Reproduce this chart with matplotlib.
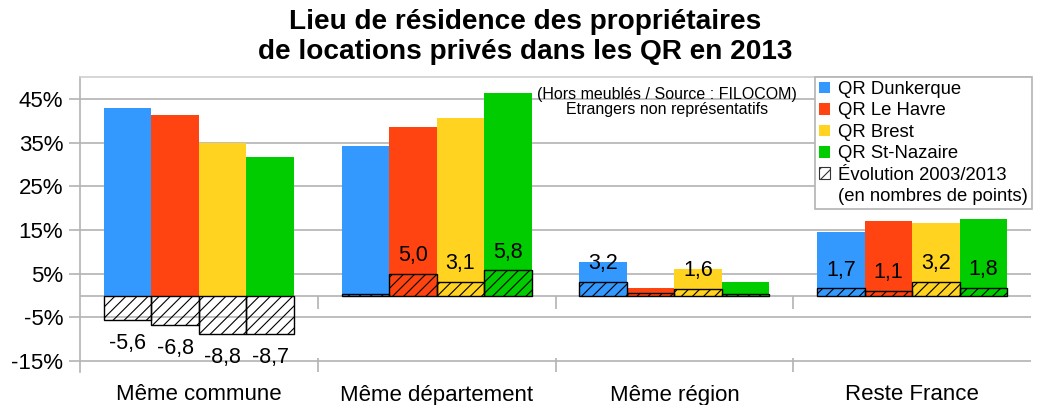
import numpy as np
import matplotlib.pyplot as plt
from matplotlib.patches import Patch

plt.rcParams['font.family'] = ['Liberation Sans', 'DejaVu Sans']
plt.rcParams['hatch.linewidth'] = 0.8

categories = ['Même commune', 'Même département', 'Même région', 'Reste France']
series = ['QR Dunkerque', 'QR Le Havre', 'QR Brest', 'QR St-Nazaire']
colors = ['#3399ff', '#ff4411', '#ffd320', '#00cc00']

# part of owners (%) in 2013
dunkerque = [43.0, 34.2, 7.6, 14.6]
le_havre = [41.2, 38.5, 1.8, 17.1]
brest = [35.0, 40.6, 6.0, 16.7]
st_nazaire = [31.6, 46.4, 3.2, 17.6]

# evolution 2003/2013 (points)
evo_dunkerque = [-5.6, 0.4, 3.2, 1.7]
evo_le_havre = [-6.8, 5.0, 0.5, 1.1]
evo_brest = [-8.8, 3.1, 1.6, 3.2]
evo_st_nazaire = [-8.7, 5.8, 0.4, 1.8]
# which evolution values carry a label on the chart
evo_shown = [[True, False, True, True],
             [True, True, False, True],
             [True, True, True, True],
             [True, True, False, True]]

values = [dunkerque, le_havre, brest, st_nazaire]
evos = [evo_dunkerque, evo_le_havre, evo_brest, evo_st_nazaire]

fig = plt.figure(figsize=(10.39, 4.05), dpi=100)
ax = fig.add_axes([80 / 1039, 1 - 372 / 405, 951 / 1039, 295 / 405])

x = np.arange(len(categories))
w = 0.2
grey = '#b3b3b3'

for i in range(4):
    pos = x + (i - 1.5) * w
    ax.bar(pos, values[i], w, color=colors[i], zorder=2)
    ax.bar(pos, evos[i], w, facecolor='none', edgecolor='black',
           hatch='///', linewidth=1, zorder=3)
    for j, v in enumerate(evos[i]):
        if not evo_shown[i][j]:
            continue
        dy = 13 if v > 0 else -17
        ax.annotate(f'{v:.1f}'.replace('.', ','), (pos[j], v),
                    xytext=(0, dy), textcoords='offset points',
                    ha='center', va='center', fontsize=15.5, zorder=4)

ax.set_xlim(-0.5, 3.5)
ax.set_ylim(-17.5, 50)
ax.set_yticks([45, 35, 25, 15, 5, -5, -15])
ax.set_yticklabels(['45%', '35%', '25%', '15%', '5%', '-5%', '-15%'])
ax.yaxis.grid(True, color=grey, linewidth=1.2, zorder=0)
ax.axhline(0, color=grey, linewidth=1.2, zorder=1)
ax.tick_params(axis='y', labelsize=16, color=grey, length=8, width=1.2, pad=4)

ax.set_xticks(x)
ax.set_xticklabels(categories, fontsize=16)
ax.set_xticks([0.5, 1.5, 2.5], minor=True)
ax.tick_params(axis='x', which='major', length=0, pad=9)
ax.tick_params(axis='x', which='minor', direction='in', length=10,
               color=grey, width=1.2)

sec = ax.secondary_xaxis(17.5 / 67.5)
sec.set_xticks([0.5, 1.5, 2.5])
sec.set_xticklabels([])
sec.tick_params(direction='out', length=9, color=grey, width=1.2)
sec.spines['bottom'].set_visible(False)
sec.spines['top'].set_visible(False)

for s in ['right', 'bottom']:
    ax.spines[s].set_visible(False)
ax.spines['left'].set_color(grey)
ax.spines['left'].set_linewidth(1.2)
ax.spines['top'].set_color('#d0d0d0')
ax.spines['top'].set_linewidth(1.2)

handles = [Patch(facecolor=c, edgecolor='none') for c in colors]
handles.append(Patch(facecolor='white', edgecolor='#333333', hatch='///', linewidth=0.8))
handles.append(Patch(facecolor='none', edgecolor='none'))
labels = series + ['Évolution 2003/2013', '(en nombres de points)']
leg = ax.legend(handles, labels, loc='upper right', bbox_to_anchor=(1.001, 1.0),
                fontsize=13.3, frameon=True, fancybox=False, framealpha=1,
                edgecolor=grey, handlelength=0.6, handleheight=0.6,
                handletextpad=0.45, labelspacing=0.24, borderpad=0.22,
                borderaxespad=0)
leg.get_frame().set_linewidth(1.2)
leg.set_zorder(5)

ax.text(0.617, 0.915, '(Hors meublés / Source : FILOCOM)\nEtrangers non représentatifs',
        transform=ax.transAxes, ha='center', va='center', fontsize=11.5,
        linespacing=1.0, zorder=6)

fig.text(0.505, 1 - 9 / 405, 'Lieu de résidence des propriétaires\nde locations privés dans les QR en 2013',
         ha='center', va='top', fontsize=20.2, fontweight='bold', linespacing=1.2)

fig.savefig('out.png', dpi=100)
